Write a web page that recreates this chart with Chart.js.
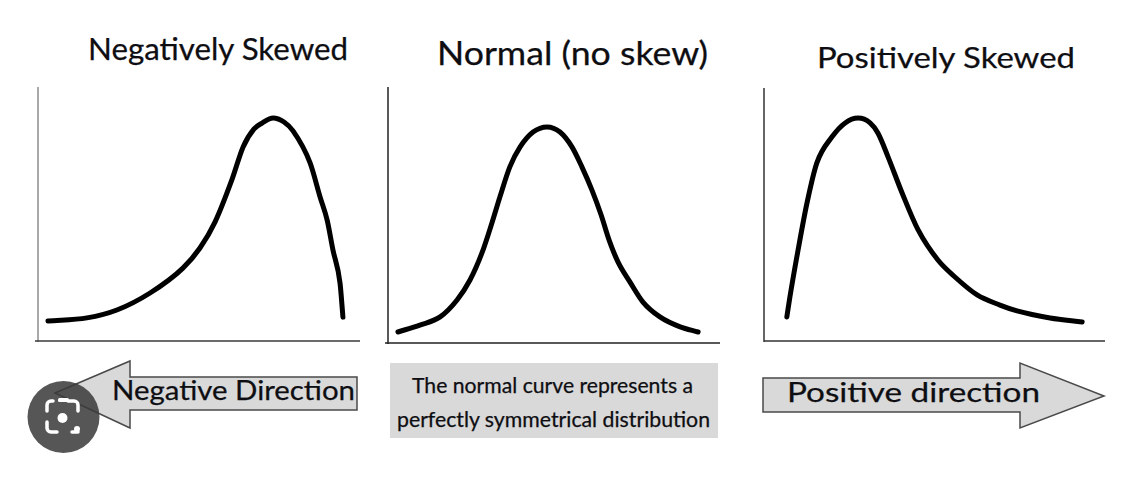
<!DOCTYPE html>
<html>
<head>
<meta charset="utf-8">
<script src="https://cdn.jsdelivr.net/npm/chart.js@4.4.1/dist/chart.umd.min.js"></script>
<style>
  html, body { margin: 0; padding: 0; background: #fff; }
  #stage { position: relative; width: 1134px; height: 484px; overflow: hidden; background: #fff; }
  canvas.panel { position: absolute; }
  .txt { position: absolute; white-space: nowrap; font-family: Lato, "Open Sans", sans-serif; color: #0e0e12; line-height: 1; transform-origin: 0 0; -webkit-text-stroke: 0.25px #0e0e12; }
  svg { position: absolute; left: 0; top: 0; }
</style>
</head>
<body>
<div id="stage">
  <svg width="1134" height="484" id="deco">
    <rect x="390" y="363" width="328" height="75" fill="#d9d9d9"/>
    <polygon points="55,393 130,361 130,377 357,377 357,410 130,410 130,428" fill="#d9d9d9" stroke="#4a4a4a" stroke-width="1.5"/>
    <polygon points="763,378 1020,378 1020,363 1104,396 1020,428 1020,412 763,412" fill="#d9d9d9" stroke="#4a4a4a" stroke-width="1.5"/>
  </svg>
  <canvas class="panel" id="c1"></canvas>
  <canvas class="panel" id="c2"></canvas>
  <canvas class="panel" id="c3"></canvas>
  <svg width="1134" height="484" id="lens">
    <circle cx="63.5" cy="417" r="36" fill="rgba(58,58,58,0.86)"/>
    <path d="M53,401 h-2 a4,4 0 0 0 -4,4 v6 M47,422 v6 a4,4 0 0 0 4,4 h6 M72,432 h6 M78,411 v-6 a4,4 0 0 0 -4,-4 h-6" fill="none" stroke="#fff" stroke-width="3.5" stroke-linecap="round"/>
    <rect x="58" y="398" width="11" height="4" rx="1.5" fill="#fff"/>
    <circle cx="62.5" cy="418" r="5" fill="#fff"/>
    <circle cx="77" cy="429" r="3" fill="#fff"/>
  </svg>
</div>
<script>
// ---- data (x: position along the axis 0-100, y: relative frequency 0-100) ----
const titles = ["Negatively Skewed", "Normal (no skew)", "Positively Skewed"];
const negX = [3.1, 15.2, 24.5, 34.8, 45.0, 50.3, 55.0, 60.2, 63.7, 67.1, 69.6, 73.0, 76.4, 79.2, 84.5, 87.6, 89.8, 91.6, 93.8, 94.7];
const negY = [7.9, 9.1, 12.2, 18.9, 28.7, 36.6, 46.9, 63.4, 76.4, 83.5, 85.8, 87.8, 86.2, 82.7, 70.1, 56.7, 47.6, 35.8, 22.8, 9.4];
const normX = [3.0, 9.6, 15.7, 20.8, 24.7, 28.3, 31.3, 33.7, 36.7, 39.8, 43.7, 47.9, 51.8, 55.4, 58.4, 61.4, 64.2, 66.6, 69.3, 72.9, 76.8, 81.9, 88.0, 93.4];
const normY = [4.3, 7.0, 10.2, 16.8, 24.6, 35.2, 46.9, 57.0, 68.8, 76.6, 82.4, 84.4, 82.4, 76.6, 68.8, 59.8, 50.0, 40.2, 31.6, 23.8, 16.0, 10.2, 6.3, 4.3];
const posX = [6.7, 7.6, 10.0, 12.6, 15.5, 19.9, 23.8, 27.6, 31.1, 33.4, 36.4, 40.5, 45.2, 51.0, 56.0, 62.5, 69.2, 74.2, 83.9, 93.3];
const posY = [9.5, 17.4, 36.0, 54.5, 70.4, 80.6, 86.2, 88.1, 86.2, 82.2, 72.7, 58.5, 43.9, 32.0, 25.3, 18.2, 14.2, 11.9, 9.1, 7.5];
const arrowLabels = ["Negative Direction", "Positive direction"];
const noteLines = ["The normal curve represents a", "perfectly symmetrical distribution"];

// ---- layout ----
const PAD = 10;
const panels = [
  { id: "c1", xs: negX, ys: negY, box: { l: 38, r: 360, t: 87, b: 341 }, yAxisColor: "#8c8c8c", xAxisColor: "#3a3a3a", xStartExtra: 3 },
  { id: "c2", xs: normX, ys: normY, box: { l: 388, r: 720, t: 87, b: 343 }, yAxisColor: "#222", xAxisColor: "#222", xStartExtra: 3 },
  { id: "c3", xs: posX, ys: posY, box: { l: 764, r: 1105, t: 88, b: 341 }, yAxisColor: "#333", xAxisColor: "#333", xStartExtra: 0 }
];

const axisLines = {
  id: "axisLines",
  beforeDatasetsDraw(chart, args, opts) {
    const ctx = chart.ctx, xs = chart.scales.x, ys = chart.scales.y;
    const x0 = xs.getPixelForValue(0), x1 = xs.getPixelForValue(100);
    const y0 = ys.getPixelForValue(0), y1 = ys.getPixelForValue(100);
    ctx.save();
    ctx.lineWidth = 1.5;
    ctx.strokeStyle = opts.yColor;
    ctx.beginPath(); ctx.moveTo(x0, y1); ctx.lineTo(x0, y0 + 1); ctx.stroke();
    ctx.strokeStyle = opts.xColor;
    ctx.beginPath(); ctx.moveTo(x0 - opts.extra, y0); ctx.lineTo(x1, y0); ctx.stroke();
    ctx.restore();
  }
};

panels.forEach(p => {
  const cv = document.getElementById(p.id);
  const w = p.box.r - p.box.l + 2 * PAD, h = p.box.b - p.box.t + 2 * PAD;
  cv.style.left = (p.box.l - PAD) + "px";
  cv.style.top = (p.box.t - PAD) + "px";
  cv.style.width = w + "px"; cv.style.height = h + "px";
  cv.width = w; cv.height = h;
  new Chart(cv, {
    type: "line",
    data: {
      datasets: [{
        data: p.xs.map((x, i) => ({ x: x, y: p.ys[i] })),
        borderColor: "#000",
        borderWidth: 5,
        pointRadius: 0,
        cubicInterpolationMode: "monotone",
        borderCapStyle: "round",
        borderJoinStyle: "round",
        fill: false,
        clip: false
      }]
    },
    options: {
      responsive: false,
      animation: false,
      devicePixelRatio: 1,
      layout: { padding: PAD },
      plugins: {
        legend: { display: false },
        tooltip: { enabled: false },
        axisLines: { yColor: p.yAxisColor, xColor: p.xAxisColor, extra: p.xStartExtra }
      },
      scales: {
        x: { type: "linear", min: 0, max: 100, display: false },
        y: { type: "linear", min: 0, max: 100, display: false }
      }
    },
    plugins: [axisLines]
  });
});

// ---- text, fitted to the reference positions ----
const stage = document.getElementById("stage");
function place(text, left, right, baseline, cap) {
  const d = document.createElement("div");
  d.className = "txt";
  const fs = cap / 0.7165;
  d.style.fontSize = fs + "px";
  const s = document.createElement("span");
  s.textContent = text;
  const m = document.createElement("span");
  m.style.display = "inline-block"; m.style.width = "0"; m.style.height = "0"; m.style.verticalAlign = "baseline";
  d.appendChild(s); d.appendChild(m);
  d.style.left = left + "px"; d.style.top = "0px";
  stage.appendChild(d);
  const base = m.offsetTop;
  const wid = s.getBoundingClientRect().width;
  d.style.top = (baseline - base) + "px";
  d.style.transform = "scaleX(" + ((right - left) / wid) + ")";
}
place(titles[0], 88, 348, 60, 22);
place(titles[1], 437, 708, 65, 23);
place(titles[2], 817, 1075, 68, 21);
place(arrowLabels[0], 112, 355, 400, 20);
place(arrowLabels[1], 787, 1040, 402, 20);
place(noteLines[0], 412, 693, 393, 14.5);
place(noteLines[1], 397, 710, 427, 14.5);
// lens overlay sits above the arrow
stage.appendChild(document.getElementById("lens"));
</script>
</body>
</html>
